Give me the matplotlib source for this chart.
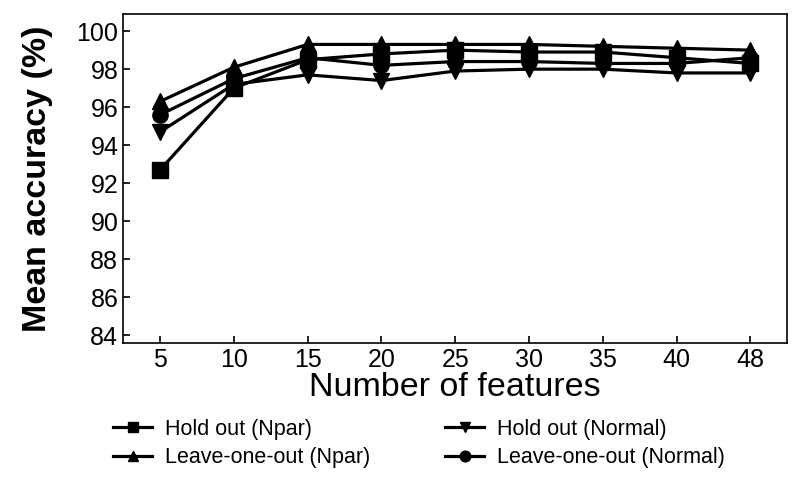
import matplotlib.pyplot as plt
import matplotlib as mpl

mpl.rc('font', family=['Liberation Sans', 'DejaVu Sans'])

# number of features (shown as equally spaced categories)
features = ["5", "10", "15", "20", "25", "30", "35", "40", "48"]

hold_npar = [92.7, 97.0, 98.5, 98.8, 99.0, 98.9, 98.9, 98.6, 98.3]
hold_normal = [94.7, 97.2, 97.7, 97.4, 97.9, 98.0, 98.0, 97.8, 97.8]
loo_npar = [96.3, 98.1, 99.3, 99.3, 99.3, 99.3, 99.2, 99.1, 99.0]
loo_normal = [95.6, 97.5, 98.6, 98.2, 98.4, 98.4, 98.3, 98.3, 98.6]

yticks = [84, 86, 88, 90, 92, 94, 96, 98, 100]

fig = plt.figure(figsize=(8.05, 4.83), dpi=100)
ax = fig.add_axes([0.153, 0.29, 0.825, 0.681])

x = list(range(len(features)))
style = dict(color="black", linewidth=2.3, markersize=11)
h1, = ax.plot(x, hold_npar, marker="s", label="Hold out (Npar)", **style)
h2, = ax.plot(x, hold_normal, marker="v", label="Hold out (Normal)", **style)
h3, = ax.plot(x, loo_npar, marker="^", label="Leave-one-out (Npar)", **style)
h4, = ax.plot(x, loo_normal, marker="o", label="Leave-one-out (Normal)", **style)

ax.set_xlim(-0.5, 8.5)
ax.set_ylim(83.6, 100.9)
ax.set_xticks(x)
ax.set_xticklabels(features)
ax.set_yticks(yticks)
ax.tick_params(direction="in", length=5, width=1.2, labelsize=18)
for s in ax.spines.values():
    s.set_linewidth(1.2)

ax.set_xlabel("Number of features", fontsize=24.5, labelpad=0)
ax.set_ylabel("Mean accuracy (%)", fontsize=24.5, fontweight="bold", labelpad=17)

fig.legend(handles=[h1, h3, h2, h4], ncol=2, loc="lower left",
           bbox_to_anchor=(0.1165, -0.01), frameon=False, fontsize=15.5,
           handlelength=1.8, markerscale=0.7, columnspacing=3.5,
           handletextpad=0.6, labelspacing=0.35)

fig.savefig("out.png", dpi=100)
